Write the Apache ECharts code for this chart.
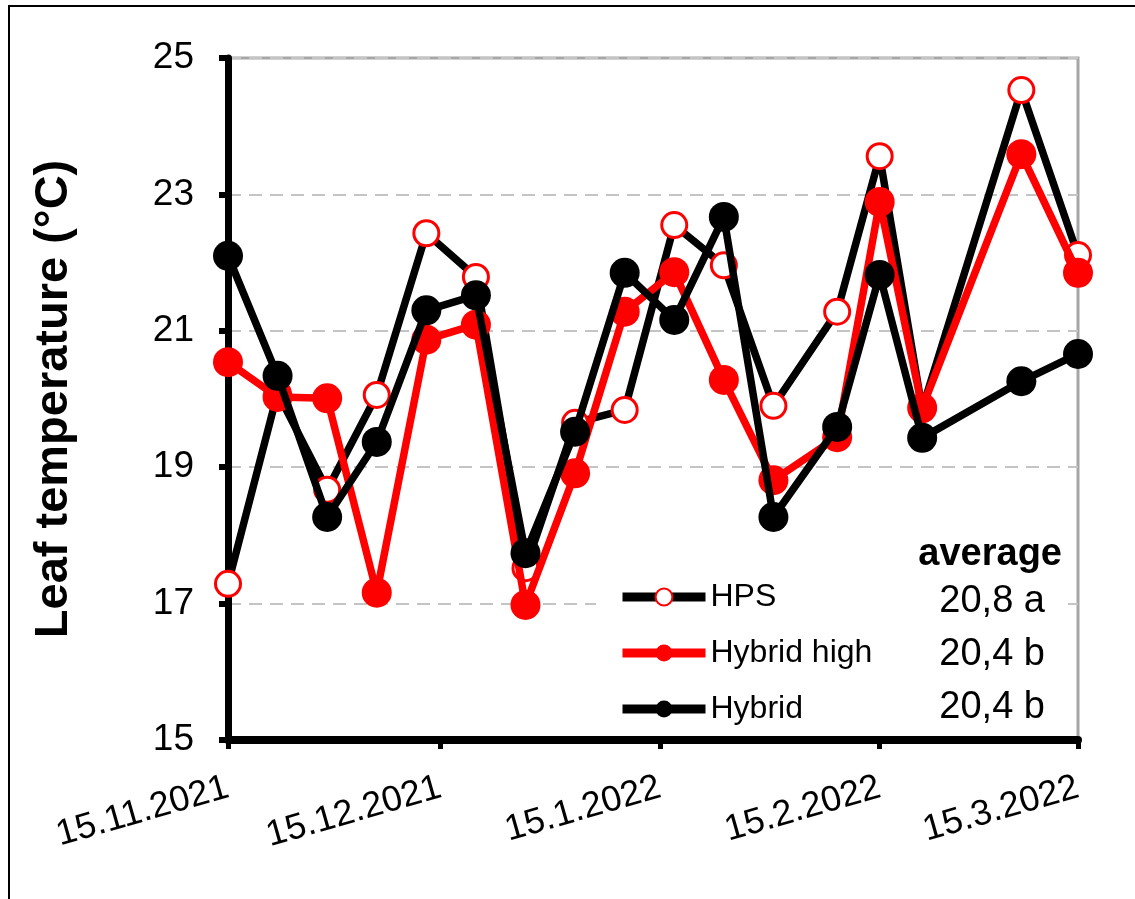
<!DOCTYPE html>
<html>
<head>
<meta charset="utf-8">
<title>Leaf temperature</title>
<script src="https://cdn.jsdelivr.net/npm/echarts@6/dist/echarts.min.js"></script>
<style>
  html, body { margin: 0; padding: 0; background: #fff; }
  #chart { width: 1135px; height: 899px; }
</style>
</head>
<body>
<div id="chart"></div>
<script>
// Measurement dates (weekly, then a few irregular ones)
const dates = [
  '2021-11-15', '2021-11-22', '2021-11-29', '2021-12-06', '2021-12-13', '2021-12-20',
  '2021-12-27', '2022-01-03', '2022-01-10', '2022-01-17', '2022-01-24', '2022-01-31',
  '2022-02-09', '2022-02-15', '2022-02-21', '2022-03-07', '2022-03-15'
];

// Leaf temperature (°C) per lighting treatment
const hps         = [17.29, 20.09, 18.67, 20.06, 22.43, 21.79, 17.52, 19.65, 19.84, 22.55, 21.96, 19.90, 21.28, 23.56, 19.85, 24.53, 22.11];
const hybridHigh  = [20.54, 20.03, 20.01, 17.16, 20.87, 21.09, 16.98, 18.91, 21.28, 21.86, 20.28, 18.81, 19.44, 22.89, 19.87, 23.59, 21.85];
const hybrid      = [22.10, 20.34, 18.27, 19.37, 21.30, 21.52, 17.74, 19.52, 21.85, 21.16, 22.67, 18.27, 19.59, 21.82, 19.43, 20.26, 20.66];

// Treatment names and their season averages
const seriesNames = ['HPS', 'Hybrid high', 'Hybrid'];
const averages    = ['20,8 a', '20,4 b', '20,4 b'];

// Axis ticks
const xTickDates = ['2021-11-15', '2021-12-15', '2022-01-15', '2022-02-15', '2022-03-15'];
const yMin = 15, yMax = 25, yStep = 2;

function toTime(s) {
  const p = s.split('-').map(Number);
  return new Date(p[0], p[1] - 1, p[2]).getTime();
}
function pairs(values) {
  return dates.map((d, i) => [toTime(d), values[i]]);
}

const FONT = "'Liberation Sans', Arial, sans-serif";
const xTicks = xTickDates.map(toTime);

const chart = echarts.init(document.getElementById('chart'), null, { renderer: 'canvas' });

chart.setOption({
  animation: false,
  backgroundColor: '#fff',
  textStyle: { fontFamily: FONT, color: '#000' },
  grid: {
    left: 228, right: 57, top: 58, bottom: 159,
    show: true, borderColor: '#a6a6a6', borderWidth: 3,
    containLabel: false, outerBoundsMode: 'none'
  },
  xAxis: {
    // dates as millisecond timestamps on a linear scale
    type: 'value',
    min: xTicks[0],
    max: xTicks[xTicks.length - 1],
    axisLine: { show: true, onZero: false, lineStyle: { color: '#000', width: 8 } },
    axisTick: {
      show: true, length: 9, customValues: xTicks,
      lineStyle: { color: '#000', width: 5 }
    },
    axisLabel: {
      customValues: xTicks,
      rotate: 16,
      margin: 47,
      fontSize: 36,
      fontFamily: FONT,
      color: '#000',
      formatter: function (v) {
        const d = new Date(v);
        return d.getDate() + '.' + (d.getMonth() + 1) + '.' + d.getFullYear();
      }
    },
    splitLine: { show: false }
  },
  yAxis: {
    type: 'value',
    min: yMin, max: yMax, interval: yStep,
    name: 'Leaf temperature (°C)',
    nameLocation: 'middle',
    nameGap: 150,
    nameTextStyle: { fontSize: 47, fontWeight: 'bold', fontFamily: FONT, color: '#000' },
    axisLine: { show: true, lineStyle: { color: '#000', width: 7 } },
    axisTick: { show: true, length: 9, lineStyle: { color: '#000', width: 6 } },
    axisLabel: { fontSize: 37, margin: 34, fontFamily: FONT, color: '#000' },
    splitLine: { show: true, lineStyle: { color: '#c4c4c4', width: 2, type: [13, 8] } }
  },
  legend: {
    orient: 'vertical',
    left: 596, top: 573,
    padding: [8, 36, 8, 22],
    backgroundColor: '#fff',
    itemWidth: 83, itemHeight: 21, itemGap: 24,
    textStyle: { fontSize: 32, fontFamily: FONT, color: '#000' },
    lineStyle: { width: 9 },
    data: seriesNames,
    selectedMode: false
  },
  series: [
    {
      name: seriesNames[0], type: 'line', z: 2,
      data: pairs(hps),
      symbol: 'circle', symbolSize: 25, showAllSymbol: true,
      lineStyle: { color: '#000', width: 7.5 },
      itemStyle: { color: '#fff', borderColor: '#ff0000', borderWidth: 3 }
    },
    {
      name: seriesNames[1], type: 'line', z: 3,
      data: pairs(hybridHigh),
      symbol: 'circle', symbolSize: 30, showAllSymbol: true,
      lineStyle: { color: '#ff0000', width: 7.5 },
      itemStyle: { color: '#ff0000' }
    },
    {
      name: seriesNames[2], type: 'line', z: 4,
      data: pairs(hybrid),
      symbol: 'circle', symbolSize: 30, showAllSymbol: true,
      lineStyle: { color: '#000', width: 7.5 },
      itemStyle: { color: '#000' }
    }
  ],
  graphic: [
    // outer frame (left and top edges)
    { type: 'line', z: 20, shape: { x1: 9, y1: 6, x2: 9, y2: 899 }, style: { stroke: '#000', lineWidth: 2 } },
    { type: 'line', z: 20, shape: { x1: 8, y1: 6, x2: 1135, y2: 6 }, style: { stroke: '#000', lineWidth: 2 } },
    // box holding the averages column
    { type: 'rect', z: 10, shape: { x: 903, y: 528, width: 160, height: 200 }, style: { fill: '#fff' } },
    { type: 'text', z: 11, style: { text: 'average', x: 1062, y: 555, align: 'right', verticalAlign: 'middle', font: 'bold 38px ' + FONT, fill: '#000' } },
    { type: 'text', z: 11, style: { text: averages[0], x: 1045, y: 602, align: 'right', verticalAlign: 'middle', font: '38px ' + FONT, fill: '#000' } },
    { type: 'text', z: 11, style: { text: averages[1], x: 1045, y: 655, align: 'right', verticalAlign: 'middle', font: '38px ' + FONT, fill: '#000' } },
    { type: 'text', z: 11, style: { text: averages[2], x: 1045, y: 708, align: 'right', verticalAlign: 'middle', font: '38px ' + FONT, fill: '#000' } }
  ]
});
</script>
</body>
</html>
